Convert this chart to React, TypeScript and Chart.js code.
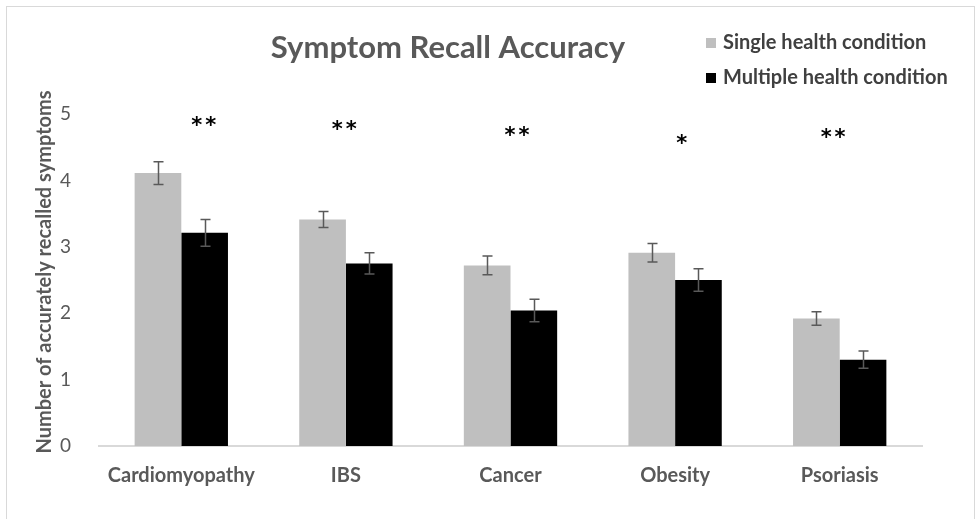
import React, { useEffect, useRef } from "react";
import { Chart, registerables } from "chart.js";

Chart.register(...registerables);

const categories = ["Cardiomyopathy", "IBS", "Cancer", "Obesity", "Psoriasis"];
const singleValues = [4.11, 3.41, 2.72, 2.91, 1.92];
const singleErrors = [0.17, 0.12, 0.14, 0.14, 0.1];
const multipleValues = [3.21, 2.75, 2.04, 2.5, 1.3];
const multipleErrors = [0.2, 0.16, 0.17, 0.17, 0.13];
const significance = ["**", "**", "**", "*", "**"];
const significanceX = [0.137, 0.99, 2.04, 3.04, 3.96];
const significanceY = [4.91, 4.85, 4.76, 4.65, 4.73];
const yTicks = [0, 1, 2, 3, 4, 5];
const seriesNames = ["Single health condition", "Multiple health condition"];
const titleText = "Symptom Recall Accuracy";
const yTitleText = "Number of accurately recalled symptoms";

const FONT = "Lato, 'Open Sans', sans-serif";
const TEXT = "#595959";

const errors = [singleErrors, multipleErrors];

const decorPlugin = {
  id: "decor",
  beforeDraw(chart: any) {
    const ctx = chart.ctx;
    ctx.save();
    ctx.strokeStyle = "#d9d9d9";
    ctx.lineWidth = 1;
    ctx.strokeRect(6.5, 6.5, 968, 600);
    ctx.restore();
  },
  afterDatasetsDraw(chart: any) {
    const ctx = chart.ctx;
    const y = chart.scales.y;
    const x = chart.scales.x;
    ctx.save();
    // error bars
    ctx.strokeStyle = "#595959";
    ctx.lineWidth = 1.5;
    chart.data.datasets.forEach((ds: any, di: number) => {
      const meta = chart.getDatasetMeta(di);
      meta.data.forEach((bar: any, i: number) => {
        const v = ds.data[i];
        const e = errors[di][i];
        const top = y.getPixelForValue(v + e);
        const bot = y.getPixelForValue(v - e);
        const cx = Math.round(bar.x) + 0.5;
        ctx.beginPath();
        ctx.moveTo(cx, top);
        ctx.lineTo(cx, bot);
        ctx.moveTo(cx - 5, top);
        ctx.lineTo(cx + 5, top);
        ctx.moveTo(cx - 5, bot);
        ctx.lineTo(cx + 5, bot);
        ctx.stroke();
      });
    });
    // significance stars
    const size = 21;
    const gap = 3;
    ctx.fillStyle = "#000";
    ctx.font = `bold ${size}px 'DejaVu Sans', sans-serif`;
    ctx.textAlign = "center";
    ctx.textBaseline = "alphabetic";
    significance.forEach((s, i) => {
      const cx = x.getPixelForValue(significanceX[i]);
      const cy = y.getPixelForValue(significanceY[i]) + 0.59 * size;
      const w = ctx.measureText("*").width;
      const n = s.length;
      const total = n * w + (n - 1) * gap;
      for (let k = 0; k < n; k++) {
        ctx.fillText("*", cx - total / 2 + w / 2 + k * (w + gap), cy);
      }
    });
    ctx.restore();
  },
  afterDraw(chart: any) {
    const ctx = chart.ctx;
    ctx.save();
    // title
    ctx.fillStyle = TEXT;
    ctx.font = `bold 31px ${FONT}`;
    ctx.textAlign = "center";
    ctx.textBaseline = "middle";
    ctx.fillText(titleText, 448, 48);
    // legend
    ctx.font = `bold 20px ${FONT}`;
    ctx.textAlign = "left";
    const colors = ["#bfbfbf", "#000000"];
    const ys = [43, 78];
    seriesNames.forEach((n, i) => {
      ctx.fillStyle = colors[i];
      ctx.fillRect(706, ys[i] - 5, 10, 10);
      ctx.fillStyle = "#404040";
      ctx.fillText(n, 723, ys[i]);
    });
    // y title
    ctx.translate(45, 272);
    ctx.rotate(-Math.PI / 2);
    ctx.textAlign = "center";
    ctx.fillStyle = TEXT;
    ctx.font = `bold 20px ${FONT}`;
    ctx.fillText(yTitleText, 0, 0);
    ctx.restore();
  },
};

export default function App() {
  const ref = useRef<HTMLCanvasElement | null>(null);
  useEffect(() => {
    if (!ref.current) return;
    const chart = new Chart(ref.current, {
      type: "bar",
      data: {
        labels: categories,
        datasets: [
          { label: seriesNames[0], data: singleValues, backgroundColor: "#bfbfbf" },
          { label: seriesNames[1], data: multipleValues, backgroundColor: "#000000" },
        ],
      },
      options: {
        animation: false,
        responsive: false,
        devicePixelRatio: 1,
        layout: { padding: { top: 114, right: 57, bottom: 0, left: 0 } },
        plugins: {
          legend: { display: false },
          title: { display: false },
          tooltip: { enabled: false },
        },
        datasets: { bar: { barPercentage: 1, categoryPercentage: 0.567 } },
        scales: {
          x: {
            grid: { display: true, drawOnChartArea: false, drawTicks: false },
            border: { display: true, color: "#d9d9d9", width: 2 },
            ticks: { color: TEXT, font: { family: FONT, size: 20, weight: "bold" }, padding: 18 },
            afterFit: (s: any) => { s.height = 519 - 446; },
          },
          y: {
            min: 0,
            max: 5,
            afterBuildTicks: (s: any) => { s.ticks = yTicks.map((v) => ({ value: v })); },
            grid: { display: false },
            border: { display: false },
            ticks: { color: TEXT, font: { family: FONT, size: 19 }, padding: 20 },
            afterFit: (s: any) => { s.width = 99; },
          },
        },
      },
      plugins: [decorPlugin],
    });
    return () => chart.destroy();
  }, []);
  return (
    <div style={{ position: "absolute", left: 0, top: 0, width: 979, height: 519, background: "#fff" }}>
      <canvas ref={ref} width={979} height={519} style={{ width: 979, height: 519, display: "block" }} />
    </div>
  );
}
